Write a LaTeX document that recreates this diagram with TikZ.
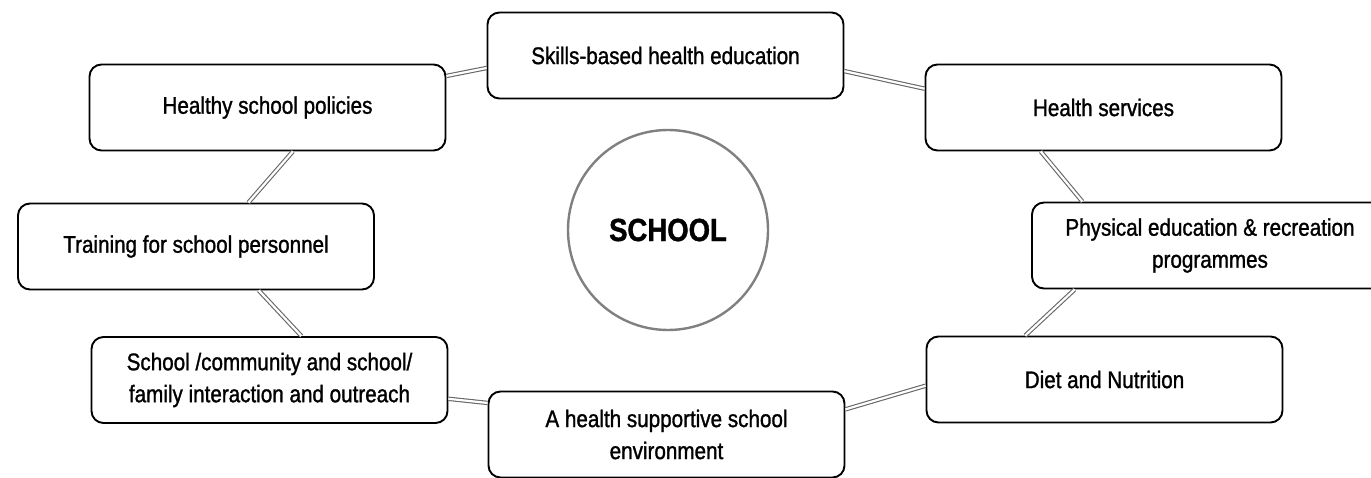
\documentclass[tikz,border=0pt]{standalone}
\usepackage{fontspec}
\setmainfont{Liberation Sans}
% Narrow, slightly heavy sans for the labels, close to a condensed grotesque.
\newfontfamily\componentfont[FakeStretch=0.86,FakeBold=1.2]{Liberation Sans}

\begin{document}
\begin{tikzpicture}[
      x=1pt,
      y=-1pt,
      line join=round,
      component/.style={
        draw=black, line width=1.9pt, rounded corners=12pt, fill=white,
        minimum width=356pt, minimum height=86pt, inner sep=0pt,
        align=center, font=\componentfont\fontsize{24}{32}\selectfont
      },
      hub/.style={
        circle, draw=gray, line width=2.4pt, minimum size=200pt,
        font=\componentfont\bfseries\fontsize{32}{36}\selectfont
      },
      link/.style={
        draw=gray!80!black, line width=1.1pt,
        double=white, double distance=2.2pt
      }
    ]
      % Page is measured in pixels of the finished figure.
      \useasboundingbox (0,0) rectangle (1371,478);
      \clip (0,0) rectangle (1371,478);

      % The school sits in the middle of the ring.
      \node[hub] (school) at (668,230) {SCHOOL};

      % Eight components, clockwise from the top.
      \node[component] (skills-education)  at (665.5,55.5)  {Skills-based health education};
      \node[component] (health-services)   at (1103.5,107.5) {Health services};
      \node[component] (physical-education) at (1210,245.5) {Physical education \& recreation\\programmes};
      \node[component] (diet-nutrition)    at (1104.5,379.5) {Diet and Nutrition};
      \node[component] (supportive-environment) at (666.5,434.5) {A health supportive school\\environment};
      \node[component] (community-outreach) at (269.5,380)   {School /community and school/\\family interaction and outreach};
      \node[component] (staff-training)    at (196,246.5)    {Training for school personnel};
      \node[component] (school-policies)   at (267.5,107.5)  {Healthy school policies};

      % Double rails joining neighbours round the ring.
      \draw[link] (school-policies.10) -- (skills-education.184);
      \draw[link] (skills-education.-5) -- (health-services.174);
      \draw[link] (health-services.215) -- (physical-education.161);
      \draw[link] (physical-education.198) -- (diet-nutrition.151);
      \draw[link] (diet-nutrition.182) -- (supportive-environment.8);
      \draw[link] (supportive-environment.170) -- (community-outreach.-6);
      \draw[link] (community-outreach.54) -- (staff-training.-35);
      \draw[link] (staff-training.40) -- (school-policies.-60);
    \end{tikzpicture}
\end{document}
